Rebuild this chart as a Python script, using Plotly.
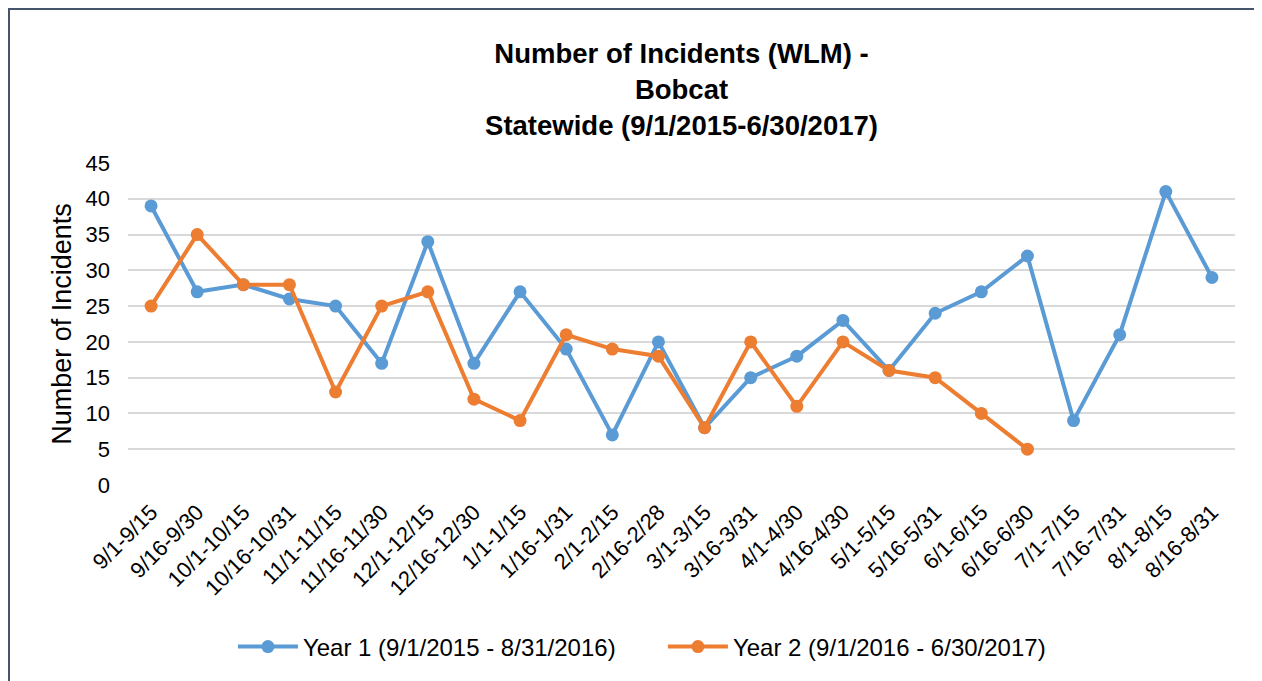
import plotly.graph_objects as go

categories = ["9/1-9/15", "9/16-9/30", "10/1-10/15", "10/16-10/31", "11/1-11/15", "11/16-11/30",
              "12/1-12/15", "12/16-12/30", "1/1-1/15", "1/16-1/31", "2/1-2/15", "2/16-2/28",
              "3/1-3/15", "3/16-3/31", "4/1-4/30", "4/16-4/30", "5/1-5/15", "5/16-5/31",
              "6/1-6/15", "6/16-6/30", "7/1-7/15", "7/16-7/31", "8/1-8/15", "8/16-8/31"]
year1 = [39, 27, 28, 26, 25, 17, 34, 17, 27, 19, 7, 20, 8, 15, 18, 23, 16, 24, 27, 32, 9, 21, 41, 29]
year2 = [25, 35, 28, 28, 13, 25, 27, 12, 9, 21, 19, 18, 8, 20, 11, 20, 16, 15, 10, 5]
y_ticks = [0, 5, 10, 15, 20, 25, 30, 35, 40, 45]

font = "Liberation Sans, Arial, sans-serif"
fig = go.Figure()
fig.add_trace(go.Scatter(x=categories, y=year1, mode="lines+markers",
                         name="Year 1 (9/1/2015 - 8/31/2016)",
                         line=dict(color="#5B9BD5", width=4),
                         marker=dict(color="#5B9BD5", size=13)))
fig.add_trace(go.Scatter(x=categories[:len(year2)], y=year2, mode="lines+markers",
                         name="Year 2 (9/1/2016 - 6/30/2017)",
                         line=dict(color="#ED7D31", width=4),
                         marker=dict(color="#ED7D31", size=13)))

fig.update_layout(
    width=1254, height=673,
    margin=dict(l=120, r=27, t=155, b=196, autoexpand=False),
    paper_bgcolor="white", plot_bgcolor="white",
    font=dict(family=font, color="#000000"),
    title=dict(text="<b>Number of Incidents (WLM) -<br>Bobcat<br>Statewide (9/1/2015-6/30/2017)</b>",
               x=0.5, xref="paper", xanchor="center", y=0.918, yanchor="top",
               font=dict(size=27.5, family=font, color="#000000")),
    showlegend=True,
    legend=dict(orientation="h", x=0.0948, xanchor="left", y=-0.503, yanchor="middle",
                font=dict(size=24, family=font), itemwidth=60,
                entrywidth=355, entrywidthmode="pixels"),
)
fig.update_xaxes(type="category", categoryorder="array", categoryarray=categories,
                 range=[-0.5, len(categories) - 0.5], automargin=False,
                 tickangle=-45, tickfont=dict(size=22, family=font, color="#000000"),
                 ticklabelstandoff=9,
                 showgrid=False, showline=False, zeroline=False, ticks="")
fig.update_yaxes(range=[0, 45], tickvals=y_ticks, showgrid=True, gridcolor="#D9D9D9", gridwidth=2,
                 zeroline=False, showline=False, automargin=False,
                 tickfont=dict(size=22, family=font, color="#000000"),
                 ticklabelstandoff=17,
                 title=dict(text="Number of Incidents", font=dict(size=27, family=font, color="#000000"),
                            standoff=6))
fig.add_shape(type="rect", xref="paper", yref="paper",
              x0=-0.1075, x1=1.2, y0=-1.0, y1=1.478,
              line=dict(color="#44546A", width=2), fillcolor="rgba(0,0,0,0)", layer="below")
fig.write_html("out.html")
